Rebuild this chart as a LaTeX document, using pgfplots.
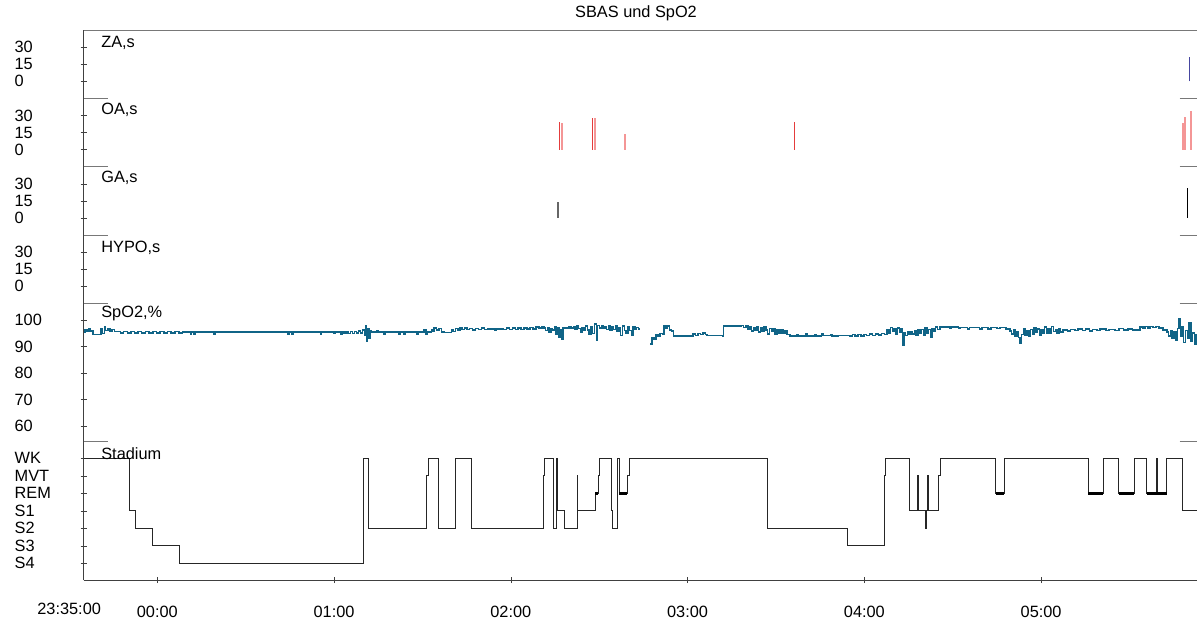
\documentclass[border=0pt]{standalone}
\usepackage{pgfplots}
\pgfplotsset{compat=1.18}
\usepackage{fontspec}
\setmainfont{Liberation Sans}
\definecolor{spo}{RGB}{16,100,135}
\definecolor{oadark}{RGB}{228,60,60}
\definecolor{oalight}{RGB}{244,150,150}
\definecolor{zanavy}{RGB}{70,70,160}
\definecolor{framegray}{RGB}{120,120,120}
\newcommand\fs{\fontsize{9.8}{11}\selectfont}
\pgfplotsset{panelbase/.style={
  scale only axis, width=668pt, xmin=-25, xmax=352.9,
  tick align=outside, major tick length=3.6pt, tick style={black!75},
  yticklabel style={anchor=west, inner sep=0pt, xshift=-39.8pt, font=\fs},
  xticklabel style={font=\fs},
  /pgf/number format/assume math mode=true,
  anchor=north west,
},
noarrows/.style={axis line style={-, draw=black!75}, x axis line style={-}, y axis line style={-},
  every outer x axis line/.append style={-}, every outer y axis line/.append style={-}},
panel/.style={panelbase, axis x line=none, axis y line=left, noarrows},
evpanel/.style={panel, height=41pt, ymin=-15, ymax=45, ytick={0,15,30}, yticklabels={0,15,30}}
}
\begin{document}
\begin{tikzpicture}
\useasboundingbox (0,0) rectangle (718.2pt,-372.6pt);
% ZA
\begin{axis}[evpanel, at={(50.19pt,-18pt)}]
\addplot[ycomb, draw=zanavy, line width=0.7pt] coordinates {(350.3,21)};
\end{axis}
% OA
\begin{axis}[evpanel, at={(50.19pt,-59pt)}]
\addplot[ycomb, draw=oadark, line width=1pt] coordinates {(136.47,24.3) (147.67,28) (216.24,24)};
\addplot[ycomb, draw=oalight, line width=1.2pt] coordinates {(137.28,23.7) (148.58,28) (158.67,13.7) (348.09,23) (348.77,29) (350.91,33.7)};
\end{axis}
% GA
\begin{axis}[evpanel, at={(50.19pt,-100pt)}]
\addplot[ycomb, draw=black!60, line width=1pt] coordinates {(135.92,14.3)};
\addplot[ycomb, draw=black, line width=0.8pt] coordinates {(349.65,26.5)};
\end{axis}
% HYPO
\begin{axis}[evpanel, at={(50.19pt,-141pt)}]
\addplot[draw=none] coordinates {(0,0)};
\end{axis}
% SpO2
\begin{axis}[panel, at={(50.19pt,-182pt)}, height=83pt, ymin=54.1, ymax=106.3,
  ytick={60,70,80,90,100}, yticklabels={60,70,80,90,100}, unbounded coords=jump]
\addplot[const plot, draw=spo, line width=0.9pt] coordinates {
(-25.0,95.3) (-24.5,96.4) (-23.8,95.6) (-23.2,96.6) (-22.6,95.8) (-21.9,94.5) (-19.1,96.8) (-18.6,95.0)
(-18.0,97.3) (-17.5,96.0) (-16.8,96.6) (-16.0,95.8) (-15.3,96.4) (-14.6,95.7) (-13.7,95.6) (-12.5,95.1)
(-11.5,95.6) (-10.2,95.1) (-9.0,95.6) (-7.8,95.1) (-6.5,95.6) (-5.3,95.1) (-4.0,95.6) (-2.8,95.1)
(-1.5,95.6) (-0.3,95.1) (1.0,95.6) (2.2,95.1) (3.5,95.6) (4.7,95.1) (6.0,95.6) (7.3,95.1) (8.5,95.4)
(11.2,94.6) (11.6,95.4) (12.4,94.6) (12.8,95.4) (19.1,94.7) (19.5,95.4) (44.3,94.8) (44.7,95.4)
(45.6,94.8) (46.0,95.4) (55.4,94.8) (55.8,95.4) (60.0,94.9) (60.4,95.4) (62.3,94.8) (62.7,95.4)
(63.4,94.9) (64.0,95.5) (64.8,95.0) (65.5,95.6) (66.2,95.0) (66.9,95.7) (67.6,95.1) (68.3,95.8)
(69.0,95.2) (69.7,96.3) (70.3,94.2) (70.7,97.9) (71.0,92.1) (71.4,96.8) (71.8,93.3) (72.2,96.0)
(72.6,95.4) (74.5,96.0) (74.9,95.4) (77.0,94.7) (77.4,95.4) (82.0,94.7) (82.4,95.4) (83.8,94.7)
(84.2,95.4) (88.2,94.7) (88.6,95.4) (90.6,96.5) (91.2,94.8) (91.6,95.4) (93.0,96.4) (93.5,95.9)
(94.0,97.0) (94.8,96.2) (95.6,96.8) (96.4,95.5) (97.3,95.3) (99.8,96.5) (100.4,95.6) (101.2,96.8)
(102.0,96.2) (102.7,96.9) (103.5,96.4) (104.3,97.0) (105.1,96.5) (106.0,96.8) (107.0,96.3) (108.0,96.8)
(109.0,96.4) (110.0,96.9) (111.0,96.4) (112.0,96.7) (114.5,96.2) (114.9,96.7) (117.4,96.4) (118.5,96.9)
(119.5,96.4) (120.5,96.9) (121.5,96.5) (122.5,96.9) (123.5,96.5) (124.5,97.0) (125.5,96.6) (126.5,97.1)
(127.5,96.7) (128.5,97.3) (129.5,96.9) (130.5,97.6) (131.2,97.0) (131.8,96.0) (132.4,97.2) (133.0,95.5)
(133.6,96.8) (134.2,96.2) (134.8,97.5) (135.4,94.5) (135.9,97.0) (136.4,93.5) (136.8,96.2) (137.3,92.6)
(137.7,96.9) (138.3,97.1) (139.0,96.8) (139.8,97.4) (140.5,96.9) (141.2,97.5) (141.8,96.5) (142.4,97.8)
(143.0,96.8) (143.6,95.3) (144.2,97.2) (144.8,96.1) (145.4,97.7) (146.0,96.3) (146.6,94.6) (147.2,97.5)
(147.8,95.0) (148.4,98.5) (149.0,92.3) (149.5,97.9) (150.1,97.0) (150.7,98.0) (151.3,96.9) (151.9,97.6)
(152.5,96.5) (153.1,97.8) (153.7,96.2) (154.3,97.5) (154.9,96.4) (155.5,98.0) (156.1,95.8) (156.7,97.1)
(157.3,94.2) (157.9,97.7) (158.5,96.0) (159.1,95.0) (159.7,97.3) (160.3,96.1) (160.9,94.3) (161.5,97.6)
(162.1,96.4) (162.7,97.2) (163.3,96.6) (164.0,96.6) (164.1,nan)
(167.3,91.0) (167.9,93.2) (168.6,92.6) (169.3,94.4) (170.0,93.8) (170.7,95.0) (171.5,94.6) (172.0,97.8)
(172.6,96.9) (173.2,97.8) (173.8,96.2) (174.6,95.8) (175.2,94.0) (181.8,94.7) (182.6,94.2) (183.5,95.0)
(184.3,94.5) (185.2,95.2) (186.1,94.6) (186.6,94.2) (191.8,94.0) (192.2,97.8) (197.5,97.6) (198.2,97.9)
(199.0,97.2) (199.8,97.8) (200.5,96.4) (201.1,97.6) (201.7,95.8) (202.3,97.1) (202.9,96.2) (203.5,97.4)
(204.1,95.4) (204.7,96.9) (205.3,95.9) (206.0,97.3) (206.6,96.2) (207.2,94.8) (207.8,96.8) (208.4,95.6)
(209.0,96.6) (209.7,94.7) (210.3,96.4) (211.0,95.2) (211.7,96.5) (212.4,95.0) (213.1,95.8) (213.8,94.6)
(214.8,94.0) (217.0,94.6) (217.5,94.0) (220.0,94.7) (220.5,94.0) (223.0,94.6) (223.5,94.0) (225.5,94.7)
(226.0,94.1) (228.5,94.4) (229.0,94.0) (231.0,94.2) (235.0,94.0) (236.0,94.6) (236.8,93.9) (237.8,94.5)
(238.8,94.0) (239.8,94.6) (240.8,94.1) (241.8,94.7) (242.8,94.2) (243.8,94.8) (244.8,94.3) (245.8,95.0)
(246.8,94.6) (247.7,96.5) (248.3,95.2) (248.9,97.2) (249.5,95.9) (250.1,96.8) (250.7,94.8) (251.3,97.0)
(251.9,95.5) (252.5,96.6) (253.0,90.6) (253.4,95.2) (254.0,94.2) (254.6,95.4) (255.2,94.6) (255.8,95.7)
(256.4,94.8) (257.0,95.9) (257.6,94.4) (258.2,96.2) (258.8,95.0) (259.4,96.4) (260.0,94.3) (260.6,96.9)
(261.2,95.2) (261.8,96.5) (262.4,93.6) (263.0,96.8) (263.6,95.8) (264.2,97.4) (264.8,96.5) (265.7,97.3)
(269.0,96.8) (269.5,97.3) (272.0,96.8) (272.5,97.2) (275.0,96.7) (275.6,97.2) (279.0,96.7) (280.0,97.1)
(282.0,96.7) (283.0,97.1) (285.0,96.8) (286.0,97.2) (288.0,96.6) (289.5,95.9) (290.0,94.8) (290.6,96.2)
(291.2,94.0) (291.8,95.6) (292.4,93.5) (292.9,91.3) (293.4,94.5) (294.0,96.6) (294.6,94.2) (295.2,95.8)
(295.8,93.8) (296.4,96.4) (297.0,94.6) (297.6,97.2) (298.2,95.3) (298.8,96.7) (299.4,94.4) (300.0,96.5)
(300.6,95.0) (301.2,97.3) (301.8,94.9) (302.4,96.8) (303.0,95.2) (303.6,97.5) (304.2,95.6) (304.8,96.2)
(305.4,95.0) (306.0,96.6) (306.6,95.4) (307.5,96.3) (309.0,95.9) (310.0,96.4) (311.5,96.0) (312.5,96.6)
(314.0,96.1) (315.0,96.7) (316.5,95.8) (317.5,96.5) (319.0,96.0) (320.0,96.6) (322.0,96.1) (323.0,96.5)
(325.0,96.1) (326.5,96.8) (328.0,96.3) (329.5,96.7) (331.0,96.2) (333.6,97.3) (334.5,96.9) (335.3,97.6)
(336.2,97.0) (337.0,97.5) (338.0,97.1) (339.0,97.6) (340.0,96.9) (341.4,96.2) (342.8,95.5) (343.3,94.0)
(343.9,96.0) (344.5,93.2) (345.1,95.4) (345.7,92.5) (346.3,96.8) (346.8,100.5) (347.3,94.0) (347.8,97.6)
(348.4,91.5) (349.0,96.0) (349.6,93.0) (350.2,99.0) (350.8,92.0) (351.4,95.2) (352.0,90.8) (352.5,94.5)
(353.0,94.5)
};
\end{axis}
% Stadium
\begin{axis}[panelbase, at={(50.19pt,-265pt)}, height=83pt, ymin=-0.95, ymax=6.95,
  axis x line=bottom, axis y line=left, noarrows,
  ytick={0,1,2,3,4,5,6}, yticklabels={S4,S3,S2,S1,REM,MVT,WK},
  xtick={0,60,120,180,240,300}, xticklabels={00:00,01:00,02:00,03:00,04:00,05:00},
  xticklabel style={anchor=center, inner sep=0pt, yshift=-17.4pt},
  extra x ticks={-25}, extra x tick labels={23:35:00},
  extra x tick style={major tick length=0pt, xticklabel style={xshift=-8.7pt}},
  unbounded coords=jump]
\addplot[const plot, draw=black!85, line width=0.6pt] coordinates {
(-25,6) (-9.27,3) (-7.57,2) (-1.56,1) (7.47,0) (69.93,6) (71.63,2) (91.45,5) (91.99,6) (95.53,2)
(101.06,6) (106.49,2) (131.03,5) (131.51,6) (134.43,2) (135.34,6) (135.68,3) (138.16,2) (142.57,5)
(142.71,3) (148.58,4) (149.70,5) (150.18,6) (154.01,3) (154.60,2) (156.15,6) (156.83,4) (159.55,5)
(160.22,6) (207.07,2) (234.23,1) (246.79,5) (247.27,6) (255.17,3) (258.13,5) (258.3,3) (260.84,2)
(261.1,3) (261.38,5) (261.6,3) (265.12,5) (265.70,6) (284.60,4) (287.53,6) (316.04,4) (321.13,6)
(326.36,4) (331.55,6) (335.86,4) (339.26,6) (339.5,4) (342.65,6) (348.08,3) (353,3)
};
\addplot[draw=black, line width=1.8pt] coordinates {
(148.58,4) (149.70,4) (149.7,nan)
(156.83,4) (159.55,4) (159.6,nan)
(284.60,4) (287.53,4) (287.6,nan)
(316.04,4) (321.13,4) (321.2,nan)
(326.36,4) (331.55,4) (331.6,nan)
(335.86,4) (342.65,4)
};
\end{axis}
% frame decorations
\draw[framegray, line width=0.6pt] (50.19pt,-18pt) -- (718.2pt,-18pt);
\foreach \yy in {59,100,141,182,265} {
  \draw[framegray, line width=0.6pt] (50.19pt,-\yy pt) -- (64.6pt,-\yy pt);
  \draw[framegray, line width=0.6pt] (707.7pt,-\yy pt) -- (718.2pt,-\yy pt);
}
% titles
\node[font=\fs, inner sep=0pt] at (381.6pt,-7.8pt) {SBAS und SpO2};
\node[font=\fs, inner sep=0pt, anchor=west] at (60.6pt,-25.6pt) {ZA,s};
\node[font=\fs, inner sep=0pt, anchor=west] at (60.6pt,-66.2pt) {OA,s};
\node[font=\fs, inner sep=0pt, anchor=west] at (60.6pt,-107pt) {GA,s};
\node[font=\fs, inner sep=0pt, anchor=west] at (60.6pt,-149pt) {HYPO,s};
\node[font=\fs, inner sep=0pt, anchor=west] at (60.6pt,-188pt) {SpO2,\%};
\node[font=\fs, inner sep=0pt, anchor=west] at (60.6pt,-272pt) {Stadium};
\end{tikzpicture}
\end{document}
